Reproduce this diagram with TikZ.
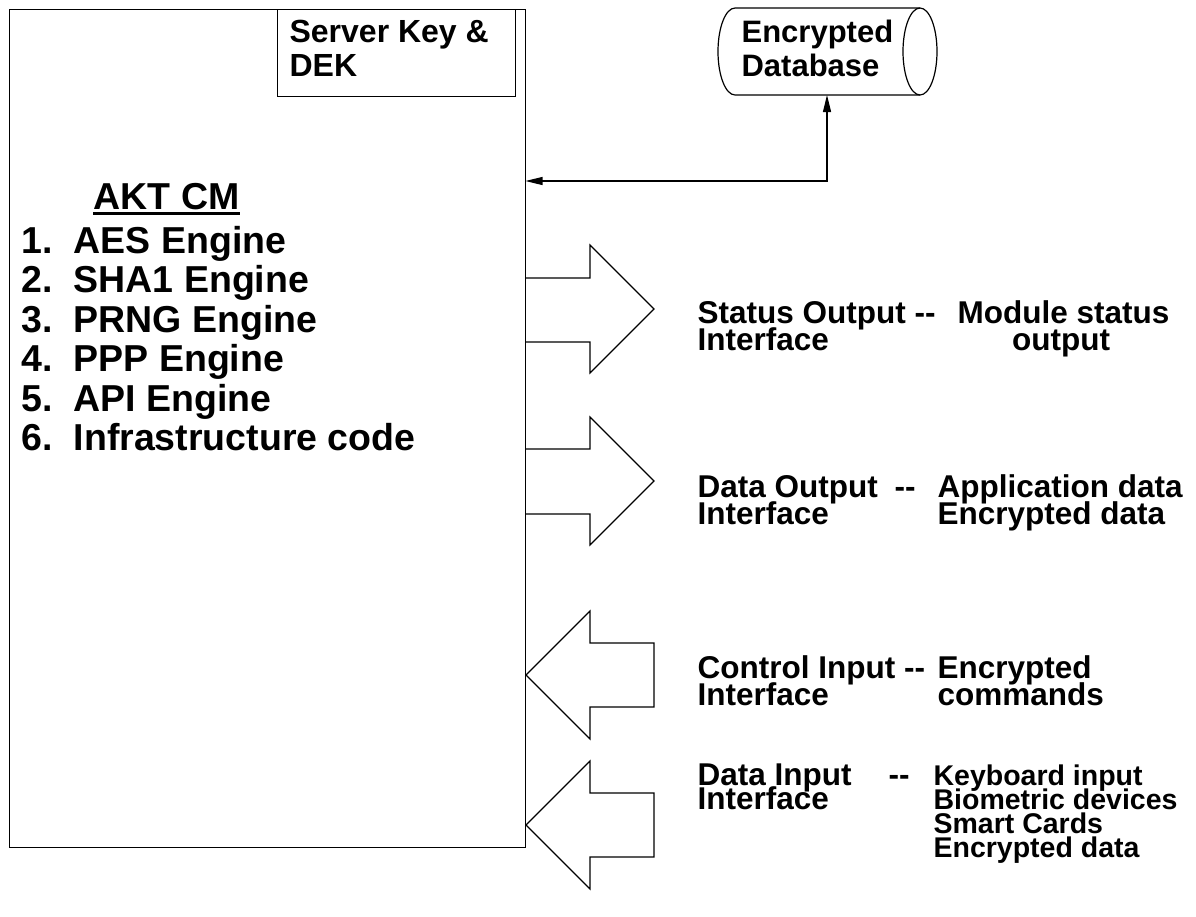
\documentclass[tikz,border=0pt]{standalone}
\usepackage{fontspec}
\setmainfont{Liberation Sans}
\usetikzlibrary{arrows.meta}

\begin{document}
\begin{tikzpicture}[x=1pt,y=-1pt,line width=1.2pt,
  lbl/.style={inner sep=0pt,anchor=base west,font=\fontsize{31.5}{31.5}\selectfont\bfseries},
  lblsm/.style={inner sep=0pt,anchor=base west,font=\fontsize{28.5}{28.5}\selectfont\bfseries},
  itm/.style={inner sep=0pt,anchor=base west,font=\fontsize{37.5}{37.5}\selectfont\bfseries},
  boxtxt/.style={inner sep=0pt,anchor=base west,font=\fontsize{31}{31}\selectfont\bfseries},
  blk/.style={draw,line width=1.2pt,inner sep=0pt,anchor=north west},
  port/.style={draw,line width=1.2pt,line join=miter},
  link/.style={draw,line width=1.2pt,{Triangle[length=17pt,width=8pt]}-{Triangle[length=17pt,width=8pt]}}]

\useasboundingbox (0,0) rectangle (1196,916);

% cryptographic module boundary
\node[blk,minimum width=516pt,minimum height=838pt] (cm) at (9,9) {};
% key storage box
\node[blk,minimum width=238pt,minimum height=87pt] (key) at (277,9) {};
\node[boxtxt,font=\fontsize{32}{32}\selectfont\bfseries] (keyA) at (289,42) {Server Key \&};
\node[boxtxt,font=\fontsize{32}{32}\selectfont\bfseries] (keyB) at (289,76) {DEK};

% module contents
\node[itm] (akt) at (93,209.5) {AKT CM};
\draw[line width=2.6pt] ([yshift=-4pt]akt.base west) -- ([yshift=-4pt]akt.base east);
\node[itm] (i1) at (21,253.5) {1.\ \ AES Engine};
\node[itm] (i2) at (21,292.9) {2.\ \ SHA1 Engine};
\node[itm] (i3) at (21,332.3) {3.\ \ PRNG Engine};
\node[itm] (i4) at (21,371.7) {4.\ \ PPP Engine};
\node[itm] (i5) at (21,411.1) {5.\ \ API Engine};
\node[itm] (i6) at (21,450.5) {6.\ \ Infrastructure code};

% encrypted database (horizontal cylinder)
\draw[line width=1.2pt] (920,8) -- (735,8)
  arc[start angle=270,end angle=90,x radius=17,y radius=43.5] -- (920,95);
\draw[line width=1.2pt] (920,51.5) ellipse[x radius=17,y radius=43.5];
\coordinate (db) at (827,95);
\node[boxtxt] (dbA) at (741,42) {Encrypted};
\node[boxtxt] (dbB) at (741,76) {Database};

% database link
\coordinate (cmIn) at (525.5,181);
\draw[link] (cmIn) -- (db |- cmIn) -- (db);

% status output interface
\draw[port] (526,278) -- (590,278) -- (590,245) -- (654,309) -- (590,373) -- (590,342) -- (526,342);
\node[lbl] (s1) at (697,323) {Status Output -{}-};
\node[lbl] (s2) at (697,350) {Interface};
\node[lbl] (s3) at (957,323) {Module status};
\node[lbl,anchor=base] (s4) at (1061,350) {output};

% data output interface
\draw[port] (526,449) -- (590,449) -- (590,417) -- (654,481) -- (590,545) -- (590,514) -- (526,514);
\node[lbl] (o1) at (697,497) {Data Output};
\node[lbl] (o2) at (894,497) {-{}-};
\node[lbl] (o3) at (697,524) {Interface};
\node[lbl] (o4) at (937,497) {Application data};
\node[lbl] (o5) at (937,524) {Encrypted data};

% control input interface
\draw[port] (526,675) -- (590,611) -- (590,643) -- (654,643) -- (654,707) -- (590,707) -- (590,739) -- cycle;
\node[lbl] (c1) at (697,678) {Control Input -{}-};
\node[lbl] (c2) at (697,705) {Interface};
\node[lbl] (c3) at (937,678) {Encrypted};
\node[lbl] (c4) at (937,705) {commands};

% data input interface
\draw[port] (526,825) -- (590,761) -- (590,793) -- (654,793) -- (654,857) -- (590,857) -- (590,889) -- cycle;
\node[lbl] (d1) at (697,785) {Data Input};
\node[lbl] (d2) at (888,785) {-{}-};
\node[lbl] (d3) at (697,809) {Interface};
\node[lblsm] (d4) at (933,785) {Keyboard input};
\node[lblsm] (d5) at (933,809) {Biometric devices};
\node[lblsm] (d6) at (933,833) {Smart Cards};
\node[lblsm] (d7) at (933,857) {Encrypted data};
\end{tikzpicture}
\end{document}
